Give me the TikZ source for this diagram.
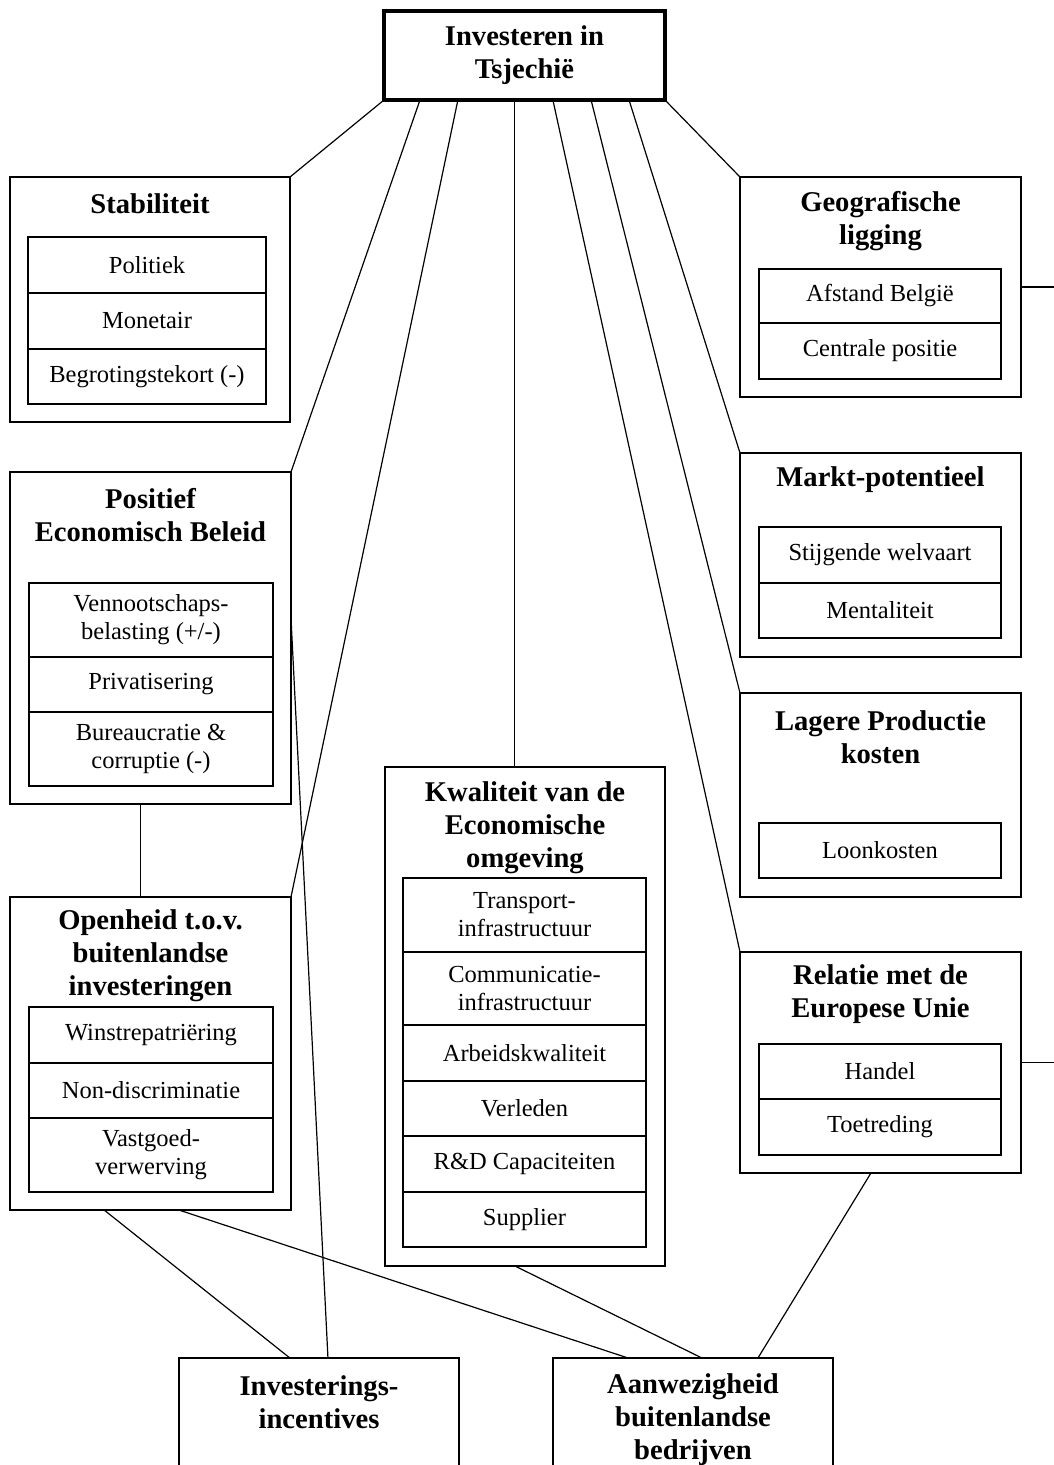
\documentclass[tikz,border=0pt]{standalone}
\usepackage{fontspec}
\setmainfont{Liberation Serif}
\usepackage{tikz}
\usetikzlibrary{calc}

\newcommand\headfont{\fontsize{28.6}{33}\selectfont\bfseries}
\newcommand\itemfont{\fontsize{24.5}{28}\selectfont}

\begin{document}
\begin{tikzpicture}[x=1pt, y=-1pt,
    outerbox/.style={draw, line width=1.4pt, minimum width=281pt, inner sep=0pt, outer sep=0pt},
    rowbox/.style={draw, line width=1.7pt, align=center, inner sep=0pt, outer sep=0pt, font=\itemfont},
    headtext/.style={align=center, inner sep=0pt, font=\headfont},
    link/.style={line width=1.2pt}]

    \useasboundingbox (0,0) rectangle (1053,1465);

    \node[draw, line width=4pt, minimum width=281pt, minimum height=89pt, outer sep=0pt, align=center, font=\headfont](top) at (524.5,55.5) {Investeren in\\Tsjechië};

    % left column
    \node[outerbox, minimum width=280pt, minimum height=245pt](stab) at (150,299.5) {};
    \node[headtext](stabT) at (150,204) {Stabiliteit};
    \node[rowbox, minimum width=238pt, minimum height=56pt](stab1) at (147,265) {Politiek};
    \node[rowbox, minimum width=238pt, minimum height=56pt](stab2) at (147,321) {Monetair};
    \node[rowbox, minimum width=238pt, minimum height=55pt](stab3) at (147,376.5) {Begrotingstekort (-)};

    \node[outerbox, minimum height=332pt](pos) at (150.5,638) {};
    \node[headtext](posT) at (150.5,515) {Positief\\Economisch Beleid};
    \node[rowbox, minimum width=244pt, minimum height=74pt](pos1) at (151,620) {Vennootschaps-\\belasting (+/-)};
    \node[rowbox, minimum width=244pt, minimum height=55pt](pos2) at (151,684.5) {Privatisering};
    \node[rowbox, minimum width=244pt, minimum height=74pt](pos3) at (151,749) {Bureaucratie \&\\corruptie (-)};

    \node[outerbox, minimum height=313pt](open) at (150.5,1053.5) {};
    \node[headtext](openT) at (150.5,955.5) {Openheid t.o.v.\\buitenlandse\\investeringen};
    \node[rowbox, minimum width=244pt, minimum height=56pt](open1) at (151,1035) {Winstrepatriëring};
    \node[rowbox, minimum width=244pt, minimum height=55pt](open2) at (151,1090.5) {Non-discriminatie};
    \node[rowbox, minimum width=244pt, minimum height=74pt](open3) at (151,1155) {Vastgoed-\\verwerving};

    % middle
    \node[outerbox, minimum width=280pt, minimum height=499pt](kwal) at (525,1016.5) {};
    \node[headtext](kwalT) at (525,828) {Kwaliteit van de\\Economische\\omgeving};
    \node[rowbox, minimum width=243pt, minimum height=74pt](kwal1) at (524.5,915) {Transport-\\infrastructuur};
    \node[rowbox, minimum width=243pt, minimum height=73pt](kwal2) at (524.5,988.5) {Communicatie-\\infrastructuur};
    \node[rowbox, minimum width=243pt, minimum height=56pt](kwal3) at (524.5,1053) {Arbeidskwaliteit};
    \node[rowbox, minimum width=243pt, minimum height=55pt](kwal4) at (524.5,1108.5) {Verleden};
    \node[rowbox, minimum width=243pt, minimum height=56pt](kwal5) at (524.5,1164) {R\&D Capaciteiten};
    \node[rowbox, minimum width=243pt, minimum height=55pt](kwal6) at (524.5,1219.5) {Supplier};

    % right column
    \node[outerbox, minimum height=220pt](geo) at (880.5,287) {};
    \node[headtext](geoT) at (880.5,221) {Geografische\\ligging};
    \node[rowbox, minimum width=242pt, minimum height=54pt](geo1) at (880,296) {Afstand België};
    \node[rowbox, minimum width=242pt, minimum height=56pt](geo2) at (880,351) {Centrale positie};

    \node[outerbox, minimum height=204pt](mkt) at (880.5,555) {};
    \node[headtext](mktT) at (880.5,480) {Markt-potentieel};
    \node[rowbox, minimum width=242pt, minimum height=56pt](mkt1) at (880,555) {Stijgende welvaart};
    \node[rowbox, minimum width=242pt, minimum height=55pt](mkt2) at (880,610.5) {Mentaliteit};

    \node[outerbox, minimum height=204pt](low) at (880.5,795) {};
    \node[headtext](lowT) at (880.5,737) {Lagere Productie\\kosten};
    \node[rowbox, minimum width=242pt, minimum height=55pt](low1) at (880,850.5) {Loonkosten};

    \node[outerbox, minimum height=221pt](rel) at (880.5,1062.5) {};
    \node[headtext](relT) at (880.5,994.5) {Relatie met de\\Europese Unie};
    \node[rowbox, minimum width=242pt, minimum height=55pt](rel1) at (880,1071.5) {Handel};
    \node[rowbox, minimum width=242pt, minimum height=56pt](rel2) at (880,1127) {Toetreding};

    % bottom
    \node[outerbox, minimum width=280pt, minimum height=200pt](inv) at (319,1458) {};
    \node[headtext](invT) at (319,1402) {Investerings-\\incentives};
    \node[outerbox, minimum width=280pt, minimum height=200pt](aanw) at (693,1458) {};
    \node[headtext](aanwT) at (693,1420) {Aanwezigheid\\buitenlandse\\bedrijven};

    \coordinate (geoout) at (1060,287);
    \coordinate (relout) at (1060,1062.5);

    % lines from the top box
    \draw[link] (top.south west) -- (stab.north east);
    \draw[link] (top.south east) -- (geo.north west);
    \foreach \f/\tgt in {0.128/pos.north east, 0.263/open.north east, 0.601/rel.north west, 0.737/low.north west, 0.872/mkt.north west}
        \draw[link] ($(top.south west)!\f!(top.south east)$) -- (\tgt);
    \draw[link] ($(top.south west)!0.463!(top.south east)$) coordinate (topmid) -- (topmid |- kwal.north);

    \draw[link] ($(pos.south west)!0.463!(pos.south east)$) coordinate (posmid) -- (posmid |- open.north);
    \draw[link] ($(pos.north east)!0.44!(pos.south east)$) -- ($(inv.north west)!0.532!(inv.north east)$);
    \draw[link] ($(open.south west)!0.335!(open.south east)$) -- ($(inv.north west)!0.396!(inv.north east)$);
    \draw[link] ($(open.south west)!0.601!(open.south east)$) -- ($(aanw.north west)!0.268!(aanw.north east)$);
    \draw[link] ($(kwal.south west)!0.464!(kwal.south east)$) -- ($(aanw.north west)!0.532!(aanw.north east)$);
    \draw[link] ($(rel.south west)!0.466!(rel.south east)$) -- ($(aanw.north west)!0.732!(aanw.north east)$);

    \draw[link] (geo.east) -- (geoout);
    \draw[link] (rel.east) -- (relout);

\end{tikzpicture}
\end{document}
